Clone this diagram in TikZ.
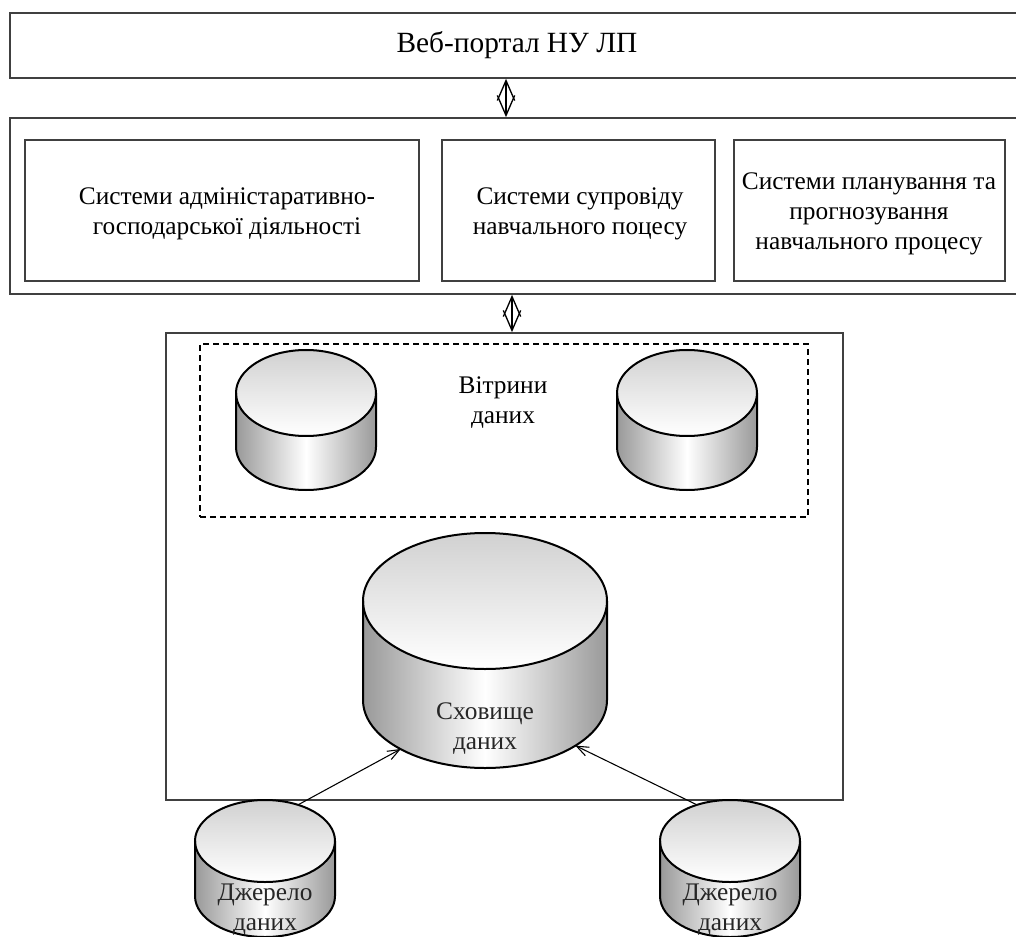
\documentclass[tikz,border=0pt]{standalone}
\usepackage{fontspec}
\setmainfont{Liberation Serif}
\usetikzlibrary{arrows.meta}

% database cylinder: origin at the centre of the top ellipse, y grows downward
\tikzset{
  cyl rx/.store in=\cylrx, cyl ry/.store in=\cylry, cyl h/.store in=\cylh,
  cyl rx=70, cyl ry=41, cyl h=55,
  dbcyl/.pic={
    \path[left color=black!40, right color=black!40, middle color=white]
      (-\cylrx,0) -- (-\cylrx,\cylh)
      arc[start angle=180, end angle=0, x radius=\cylrx, y radius=\cylry]
      -- (\cylrx,0) -- cycle;
    \draw[line width=1.5pt, top color=black!18, bottom color=white]
      (0,0) ellipse [x radius=\cylrx, y radius=\cylry];
    \draw[line width=1.5pt]
      (-\cylrx,0) -- (-\cylrx,\cylh)
      arc[start angle=180, end angle=0, x radius=\cylrx, y radius=\cylry]
      -- (\cylrx,0);
    \coordinate (-tl) at ({-0.47*\cylrx},{-0.88*\cylry});
    \coordinate (-tr) at ({0.47*\cylrx},{-0.88*\cylry});
    \coordinate (-bl) at ({-0.69*\cylrx},{\cylh+0.72*\cylry});
    \coordinate (-br) at ({0.74*\cylrx},{\cylh+0.67*\cylry});
  }
}

\begin{document}
\begin{tikzpicture}[x=0.75pt, y=-0.75pt,
  every node/.style={font=\fontsize{19}{22.5}\selectfont, align=center, inner sep=0pt},
  frame/.style={draw=black!75, line width=1.3pt},
  marts/.style={draw, line width=1pt, dash pattern=on 4.5pt off 3pt},
  dbl/.style={{Straight Barb[length=15pt,width=13pt]}-{Straight Barb[length=15pt,width=13pt]}, line width=1pt},
  feed/.style={-{Straight Barb[length=9pt,width=7pt]}, line width=0.8pt},
  cyltext/.style={text=black!85}]

\useasboundingbox (0,0) rectangle (1016,937);

% portal
\node[frame, minimum width={1012*0.75pt}, minimum height={65*0.75pt}] (portal) at (516,45.5) {};
\node[font=\fontsize{22}{26}\selectfont] (portaltxt) at (517,45) {Веб-портал НУ ЛП};

% application systems
\node[frame, minimum width={1012*0.75pt}, minimum height={176*0.75pt}] (systems) at (516,206) {};
\node[frame, minimum width={394*0.75pt}, minimum height={141*0.75pt}] (admin) at (222,210.5) {};
\node (admintxt) at (227,214) {Системи адміністаративно-\\господарської діяльності};
\node[frame, minimum width={273*0.75pt}, minimum height={141*0.75pt}] (support) at (578.5,210.5) {};
\node (supporttxt) at (580,214) {Системи супровіду\\навчального поцесу};
\node[frame, minimum width={271*0.75pt}, minimum height={141*0.75pt}] (plan) at (869.5,210.5) {};
\node (plantxt) at (869,214) {Системи планування та\\прогнозування\\навчального процесу};

% data warehouse block
\node[frame, minimum width={677*0.75pt}, minimum height={467*0.75pt}] (dwh) at (504.5,566.5) {};
\node[marts, minimum width={608*0.75pt}, minimum height={173*0.75pt}] (martbox) at (504,430.5) {};
\node (martlbl) at (503,403) {Вітрини\\даних};

\pic[cyl rx=70, cyl ry=43, cyl h=54] (m1) at (306,393) {dbcyl};
\pic[cyl rx=70, cyl ry=43, cyl h=54] (m2) at (687,393) {dbcyl};

\pic[cyl rx=122, cyl ry=68, cyl h=99] (store) at (485,601) {dbcyl};
\node[cyltext] (storelbl) at (485,729) {Сховище\\даних};

% data sources
\pic (src1) at (265,841) {dbcyl};
\node[cyltext] (src1lbl) at (265,910) {Джерело\\даних};
\pic (src2) at (730,841) {dbcyl};
\node[cyltext] (src2lbl) at (730,910) {Джерело\\даних};

% connectors
\draw[dbl] ([xshift=-7.5pt]portal.south) -- ([xshift=-7.5pt]portal.south |- systems.north);
\draw[dbl] ([xshift=-3pt]systems.south) -- ([xshift=-3pt]systems.south |- dwh.north);
\draw[feed] (src1-tr) -- (store-bl);
\draw[feed] (src2-tl) -- (store-br);
\end{tikzpicture}
\end{document}
